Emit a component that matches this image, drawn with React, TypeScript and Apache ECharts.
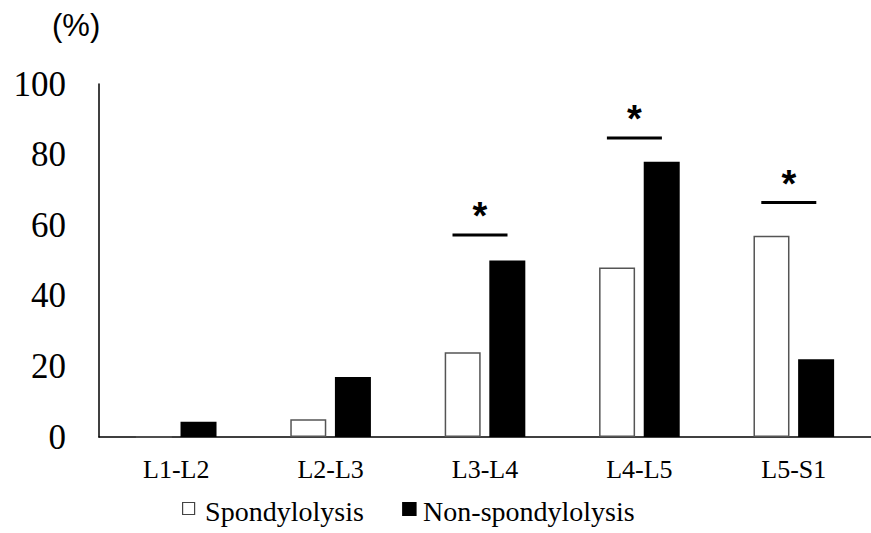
import React, { useEffect, useRef } from "react";
import * as echarts from "echarts";

const categories = ["L1-L2", "L2-L3", "L3-L4", "L4-L5", "L5-S1"];
const spondylolysis = [0, 5, 24, 48, 57];
const nonSpondylolysis = [4.3, 17, 50, 78, 22];
const sigCategories = ["L3-L4", "L4-L5", "L5-S1"];
const sigLevels = [57.2, 84.7, 66.4];
const yTicks = { min: 0, max: 100, interval: 20 };
const seriesNames = ["Spondylolysis", "Non-spondylolysis"];

const SERIF = "Liberation Serif";
const SANS = "Liberation Sans";

export default function App() {
  const ref = useRef<HTMLDivElement>(null);
  useEffect(() => {
    if (!ref.current) return;
    const chart = echarts.init(ref.current, null, { renderer: "svg" });
    chart.setOption({
      animation: false,
      backgroundColor: "#fff",
      title: {
        text: "(%)",
        left: 52,
        top: 10,
        padding: 0,
        textStyle: { fontFamily: SANS, fontSize: 31, fontWeight: "normal", color: "#000" },
      },
      graphic: [
        {
          type: "group",
          left: 182,
          top: 497,
          children: [
            {
              type: "rect",
              shape: { x: 0.5, y: 9.5, width: 12, height: 12 },
              style: { fill: "#fff", stroke: "#444", lineWidth: 1.2 },
            },
            {
              type: "text",
              x: 23,
              y: 18,
              style: {
                text: seriesNames[0],
                font: '28px "Liberation Serif"',
                fill: "#000",
                verticalAlign: "middle",
              },
            },
            {
              type: "rect",
              shape: { x: 220, y: 9, width: 14.5, height: 14 },
              style: { fill: "#000" },
            },
            {
              type: "text",
              x: 241,
              y: 18,
              style: {
                text: seriesNames[1],
                font: '28px "Liberation Serif"',
                fill: "#000",
                verticalAlign: "middle",
              },
            },
          ],
        },
      ],
      grid: { left: 99, top: 84, width: 776.5, height: 353, containLabel: false },
      xAxis: {
        type: "category",
        data: categories,
        axisLine: { lineStyle: { color: "#000", width: 1.5 } },
        axisTick: { show: false },
        axisLabel: { fontFamily: SERIF, fontSize: 26, color: "#000", margin: 19 },
      },
      yAxis: {
        type: "value",
        min: yTicks.min,
        max: yTicks.max,
        interval: yTicks.interval,
        axisLine: { show: true, lineStyle: { color: "#000", width: 1.5 } },
        axisTick: { show: false },
        splitLine: { show: false },
        axisLabel: { fontFamily: SERIF, fontSize: 35, color: "#000", margin: 33 },
      },
      series: [
        {
          name: seriesNames[0],
          type: "bar",
          data: spondylolysis,
          barWidth: 36,
          barGap: "24%",
          itemStyle: { color: "#fff", borderColor: "#555", borderWidth: 1.5 },
        },
        {
          name: seriesNames[1],
          type: "bar",
          data: nonSpondylolysis,
          barWidth: 36,
          barGap: "24%",
          itemStyle: { color: "#000" },
        },
        {
          name: "sig",
          type: "custom",
          coordinateSystem: "cartesian2d",
          encode: { x: 0, y: 1 },
          data: sigCategories.map((c, i) => [c, sigLevels[i]]),
          renderItem: (params: any, api: any) => {
            const p = api.coord([api.value(0), api.value(1)]);
            const cx = p[0] - 5;
            const y = p[1];
            return {
              type: "group",
              children: [
                {
                  type: "line",
                  shape: { x1: cx - 27.5, y1: y, x2: cx + 27.5, y2: y },
                  style: { stroke: "#000", lineWidth: 3 },
                },
                {
                  type: "text",
                  style: {
                    text: "*",
                    x: cx,
                    y: y - 19,
                    align: "center",
                    verticalAlign: "middle",
                    font: 'bold 38px "Liberation Sans"',
                    fill: "#000",
                  },
                },
              ],
            };
          },
        },
      ],
    });
    return () => chart.dispose();
  }, []);
  return (
    <div
      ref={ref}
      style={{ position: "absolute", left: 0, top: 0, width: 871, height: 533 }}
    />
  );
}
